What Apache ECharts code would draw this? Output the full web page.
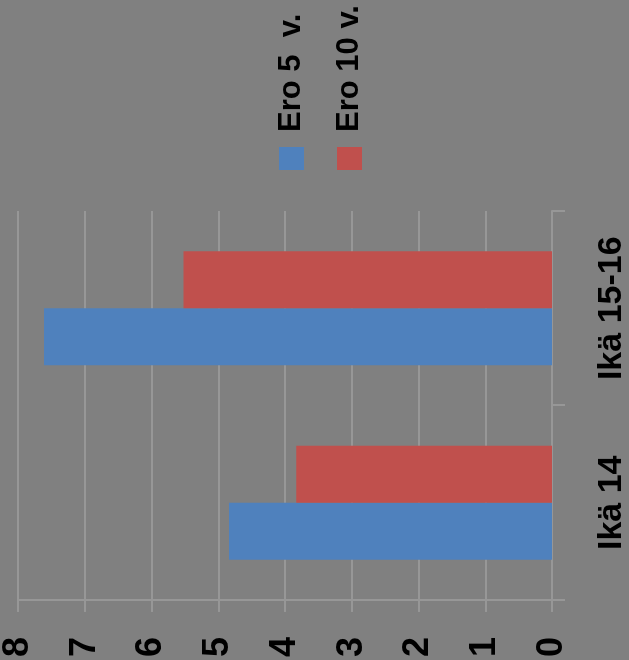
<!DOCTYPE html>
<html>
<head>
<meta charset="utf-8">
<script src="https://cdn.jsdelivr.net/npm/echarts@6/dist/echarts.min.js"></script>
<style>
html, body { margin:0; padding:0; background:#808080; width:629px; height:660px; overflow:hidden; }
#chart { position:absolute; left:0; top:0; width:660px; height:629px; transform-origin:0 0; transform: translate(0px, 660px) rotate(-90deg); background:#808080; }
</style>
</head>
<body>
<div id="chart"></div>
<script>
const categories = ['Ikä 14', 'Ikä 15-16'];
const seriesNames = ['Ero 5  v.', 'Ero 10 v.'];
const ero5 = [4.84, 7.61];
const ero10 = [3.83, 5.52];
const valueTicks = [0, 1, 2, 3, 4, 5, 6, 7, 8];

const chart = echarts.init(document.getElementById('chart'));
const font = 'Liberation Sans, Arial, sans-serif';
chart.setOption({
  backgroundColor: '#808080',
  animation: false,
  legend: {
    orient: 'vertical',
    left: 490,
    top: 274,
    padding: 0,
    itemWidth: 23,
    itemHeight: 25,
    itemGap: 23,
    icon: 'rect',
    textStyle: { fontSize: 31, fontWeight: 'bold', color: '#000', fontFamily: font, padding: [0, 0, 0, 10], lineHeight: 35 },
    data: seriesNames
  },
  grid: { left: 59, right: 211, top: 15, bottom: 77, containLabel: false },
  xAxis: {
    type: 'category',
    data: categories,
    axisLine: { show: true, lineStyle: { color: '#979797', width: 2 } },
    axisTick: { show: true, length: 13, lineStyle: { color: '#979797', width: 2 } },
    axisLabel: { fontSize: 34, fontWeight: 'bold', color: '#000', fontFamily: font, margin: 43 },
    splitLine: { show: false }
  },
  yAxis: {
    type: 'value',
    min: valueTicks[0],
    max: valueTicks[valueTicks.length - 1],
    interval: 1,
    axisLine: { show: true, lineStyle: { color: '#979797', width: 2 } },
    axisTick: { show: true, length: 12, lineStyle: { color: '#979797', width: 2 } },
    axisLabel: { fontSize: 36, fontWeight: 'bold', color: '#000', fontFamily: font, margin: 37 },
    splitLine: { show: true, lineStyle: { color: '#979797', width: 2 } }
  },
  series: [
    { name: seriesNames[0], type: 'bar', data: ero5, barWidth: 57, barGap: '0%', itemStyle: { color: '#4F81BD' } },
    { name: seriesNames[1], type: 'bar', data: ero10, barWidth: 57, barGap: '0%', itemStyle: { color: '#C0504D' } }
  ]
});
</script>
</body>
</html>
